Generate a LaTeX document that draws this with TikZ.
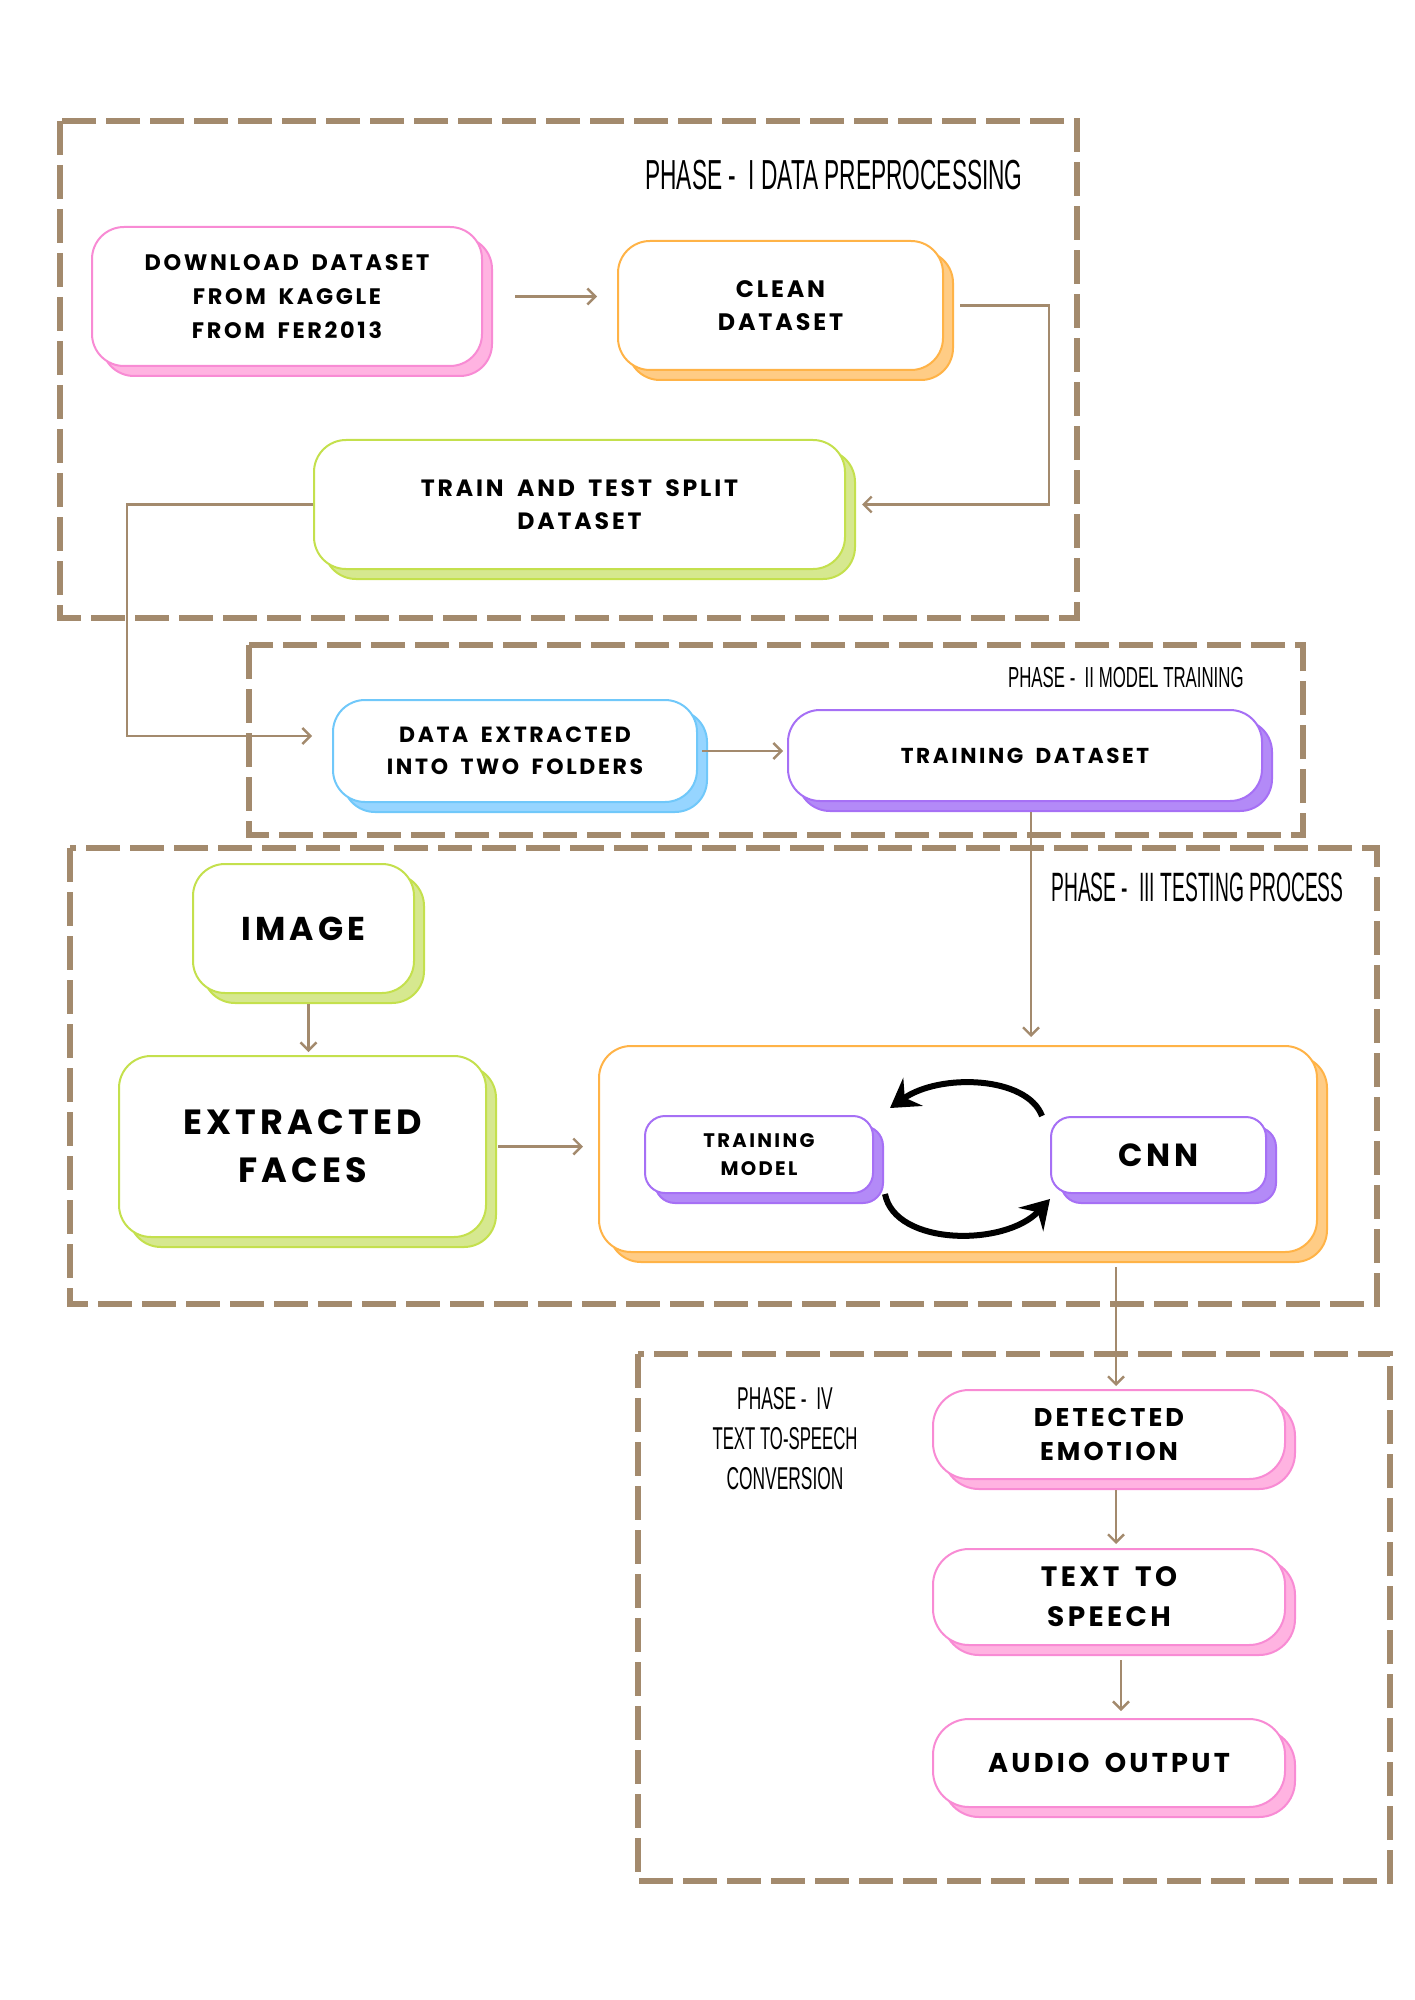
\documentclass[tikz,border=0pt]{standalone}
\usepackage{fontspec}
\usepackage{graphicx}
\usetikzlibrary{arrows.meta}
\newfontfamily\boxfont[LetterSpace=12, WordSpace=1.7]{Poppins}
\newfontfamily\phasefont{Liberation Sans}
\definecolor{framebrown}{HTML}{A38A6D}
\definecolor{pinkline}{HTML}{F88BD4}
\definecolor{pinkfill}{HTML}{FFB3E1}
\definecolor{orangeline}{HTML}{FFB347}
\definecolor{orangefill}{HTML}{FFCC85}
\definecolor{greenline}{HTML}{C4E04D}
\definecolor{greenfill}{HTML}{D6E88F}
\definecolor{blueline}{HTML}{70C8FA}
\definecolor{bluefill}{HTML}{96D5FF}
\definecolor{purpleline}{HTML}{A670F5}
\definecolor{purplefill}{HTML}{B38AF7}
\newcommand\phasetext[3]{\scalebox{#1}[1]{\phasefont\fontsize{#2}{#2}\selectfont #3}}

\begin{document}
\begin{tikzpicture}[x=0.5pt, y=-0.5pt,
    box/.style={rectangle, rounded corners=16pt, fill=white, line width=1pt,
                align=center, inner sep=0pt},
    shadowbox/.style 2 args={box, draw=#1,
                preaction={draw=#1, fill=#2, transform canvas={xshift=5pt, yshift=-5pt}}},
    pinkbox/.style={shadowbox={pinkline}{pinkfill}},
    orangebox/.style={shadowbox={orangeline}{orangefill}},
    greenbox/.style={shadowbox={greenline}{greenfill}},
    bluebox/.style={shadowbox={blueline}{bluefill}},
    purplebox/.style={shadowbox={purpleline}{purplefill}},
    textsize/.style 2 args={font=\boxfont\bfseries\fontsize{#1}{#2}\selectfont},
    phase/.style={draw=framebrown, line width=3.4pt, dash pattern=on 17pt off 5pt},
    title/.style={inner sep=0pt, align=center},
    flow/.style={draw=framebrown, line width=1.2pt, -{Straight Barb[length=4pt, width=8pt]}},
    turnarrow/.style={line width=3pt, -{Stealth[length=14pt, width=17pt, inset=5pt]}}]
  \useasboundingbox (0,0) rectangle (1414,2000);

  % phase frames
  \draw[phase] (60,121) rectangle (1077,618);
  \draw[phase] (249,645) rectangle (1303,835);
  \draw[phase] (70,848) rectangle (1377,1304);
  \draw[phase] (638,1354) rectangle (1390,1881);

  \node[title, anchor=east] (t1) at (1023,175) {\phasetext{0.54}{21}{PHASE -\ \ I DATA PREPROCESSING}};
  \node[title, anchor=east] (t2) at (1244,678) {\phasetext{0.58}{14.5}{PHASE -\ \ II MODEL TRAINING}};
  \node[title, anchor=east] (t3) at (1344,887) {\phasetext{0.47}{20.5}{PHASE -\ \ III TESTING PROCESS}};
  \node[title, font=\fontsize{15.4}{20}\selectfont] (t4) at (785,1439)
    {\phasetext{0.55}{15.8}{PHASE -\ \ IV}\\\phasetext{0.53}{15.8}{TEXT TO-SPEECH}\\\phasetext{0.55}{15.8}{CONVERSION}};

  % phase I
  \node[pinkbox, minimum width=195pt, minimum height=69.5pt, textsize={11.2}{17}] (dl) at (287,296.5)
    {DOWNLOAD DATASET\\FROM KAGGLE\\FROM FER2013};
  \node[orangebox, minimum width=162.5pt, minimum height=64.5pt, textsize={11.9}{16.5}] (clean) at (780.5,305.5)
    {CLEAN\\DATASET};
  \node[greenbox, minimum width=265.5pt, minimum height=64.5pt, textsize={11.8}{16.5}] (split) at (579.5,504.5)
    {TRAIN AND TEST SPLIT\\DATASET};

  % phase II
  \node[bluebox, minimum width=182pt, minimum height=51pt, textsize={11}{16}] (dex) at (515,751)
    {DATA EXTRACTED\\INTO TWO FOLDERS};
  \node[purplebox, minimum width=237pt, minimum height=45.5pt, textsize={10.8}{16}] (tds) at (1025,755.5)
    {TRAINING DATASET};

  % phase III
  \node[greenbox, minimum width=110.5pt, minimum height=64.5pt, textsize={16.5}{22}] (img) at (303.5,928.5)
    {IMAGE};
  \node[greenbox, minimum width=183.5pt, minimum height=90.5pt, textsize={17.5}{24}] (ef) at (302.5,1146.5)
    {EXTRACTED\\FACES};
  \node[orangebox, minimum width=359pt, minimum height=103pt] (big) at (958,1149) {};
  \node[purplebox, rounded corners=10pt, minimum width=114pt, minimum height=38.5pt, textsize={9.8}{14}] (tm) at (759,1154.5)
    {TRAINING\\MODEL};
  \node[purplebox, rounded corners=10pt, minimum width=107.5pt, minimum height=38pt, textsize={16}{20}] (cnn) at (1158.5,1155)
    {CNN};

  % phase IV
  \node[pinkbox, rounded corners=18pt, minimum width=176pt, minimum height=44.5pt, textsize={12.8}{17}] (det) at (1109,1434.5)
    {DETECTED\\EMOTION};
  \node[pinkbox, rounded corners=18pt, minimum width=176pt, minimum height=48pt, textsize={14}{20}] (tts) at (1109,1597)
    {TEXT TO\\SPEECH};
  \node[pinkbox, rounded corners=18pt, minimum width=176pt, minimum height=44pt, textsize={13.6}{20}] (aud) at (1109,1763)
    {AUDIO OUTPUT};

  % connectors
  \draw[flow, shorten <=16pt, shorten >=10pt] (dl.east) -- (dl.east -| clean.west);
  \draw[flow, shorten <=8pt, shorten >=8pt] (clean.east) -- ++(105,0) |- (split.east);
  \draw[flow, shorten >=10pt] (split.west) -- ++(-186,0) |- ([yshift=7.5pt]dex.west);
  \draw[flow, shorten <=2pt, shorten >=2pt] (dex.east) -- (dex.east -| tds.west);
  \draw[flow, shorten <=5pt, shorten >=4pt] ([xshift=3pt]tds.south) -- ([xshift=3pt]tds.south |- big.north);
  \draw[flow, shorten <=5pt, shorten >=1.5pt] ([xshift=2.5pt]img.south) -- ([xshift=2.5pt]img.south |- ef.north);
  \draw[flow, shorten <=5.5pt, shorten >=7.5pt] (ef.east) -- (ef.east -| big.west);
  \draw[flow, shorten <=7pt, shorten >=1.5pt] ([xshift=3.5pt]det.north |- big.south) -- ([xshift=3.5pt]det.north);
  \draw[flow, shorten <=5pt, shorten >=2pt] ([xshift=3.5pt]det.south) -- ([xshift=3.5pt]tts.north);
  \draw[flow, shorten <=7pt, shorten >=3.5pt] ([xshift=6pt]tts.south) -- ([xshift=6pt]aud.north);

  \draw[turnarrow] ([xshift=-4pt]cnn.north west) .. controls +(-15,-40) and +(50,-35) .. ([xshift=8pt, yshift=3.5pt]tm.north east);
  \draw[turnarrow] ([xshift=5.5pt]tm.south east) .. controls +(10,52) and +(-45,48) .. ([yshift=-2.5pt]cnn.south west);
\end{tikzpicture}
\end{document}
